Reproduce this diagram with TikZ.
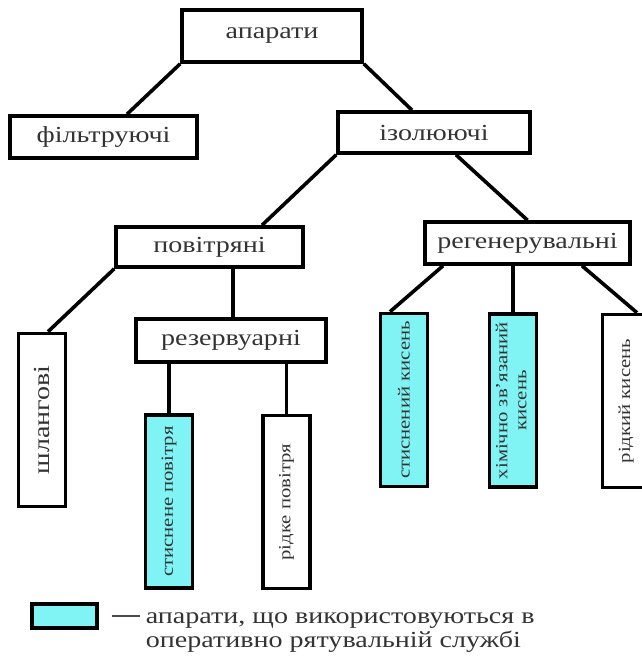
\documentclass[tikz,border=0pt]{standalone}
\usepackage{fontspec}
\setmainfont[FakeStretch=1.22]{Liberation Serif}
\definecolor{cyanfill}{RGB}{128,244,244}

\begin{document}
\begin{tikzpicture}[
  x=1pt, y=-1pt,
  line width=3.6pt,
  every node/.style = {shape=rectangle, draw, align=center,
    inner sep=0pt, text=black!80},
  hbox/.style = {font=\fontsize{23}{24}\selectfont},
  vbox/.style = {font=\fontsize{17}{19}\selectfont,
    minimum width=47pt, minimum height=173pt},
  inuse/.style = {fill=cyanfill}]
  \useasboundingbox (0,0) rectangle (641,659);
  % upper levels
  \node[hbox, minimum width=180pt, minimum height=52pt] (apar) at (272,36) {апарати};
  \node[hbox, minimum width=187pt, minimum height=42pt] (filtr) at (103.5,137) {фільтруючі};
  \node[hbox, minimum width=192pt, minimum height=41pt] (izol) at (434,132.5) {ізолюючі};
  \node[hbox, minimum width=187pt, minimum height=40pt] (povitr) at (209.5,247) {повітряні};
  \node[hbox, minimum width=205pt, minimum height=42pt] (regen) at (527.5,243) {регенерувальні};
  \node[hbox, minimum width=190pt, minimum height=43pt] (rezerv) at (231,340.5) {резервуарні};
  % vertical boxes
  \node[vbox, hbox] (shlang) at (42,420) {\rotatebox{90}{шлангові}};
  \node[vbox, inuse] (stysn) at (169,501.5) {\rotatebox{90}{стиснене повітря}};
  \node[vbox] (ridke) at (286.5,502) {\rotatebox{90}{рідке повітря}};
  \node[vbox, inuse] (stkys) at (404,400) {\rotatebox{90}{стиснений кисень}};
  \node[vbox, inuse] (khim) at (513,400.5)
    {\rotatebox{90}{\begin{tabular}{@{}c@{}}хімічно зв'язаний\\кисень\end{tabular}}};
  \node[vbox] (ridkys) at (626,401) {\rotatebox{90}{рідкий кисень}};
  % connectors
  \draw (apar.south west) -- ([xshift=23.5pt]filtr.north);
  \draw (apar.south east) -- ([xshift=-22pt]izol.north);
  \draw (izol.south west) -- ([xshift=52.5pt]povitr.north);
  \draw ([xshift=22pt]izol.south) -- (regen.north);
  \draw (povitr.south west) -- ([xshift=6pt]shlang.north);
  \draw ([xshift=23.5pt]povitr.south) -- ([xshift=2pt]rezerv.north);
  \draw (stysn.north) -- (stysn.north |- rezerv.south);
  \draw (ridke.north) -- (ridke.north |- rezerv.south);
  \draw ([xshift=-84.5pt]regen.south) -- ([xshift=-14pt]stkys.north);
  \draw (khim.north) -- (khim.north |- regen.south);
  \draw ([xshift=54.5pt]regen.south) -- ([xshift=11pt]ridkys.north);
  % legend
  \node[inuse, minimum width=65pt, minimum height=24pt] (keybox) at (64.5,616) {};
  \node[hbox, draw=none, align=left, anchor=north west] (keytext) at (144,611)
    {апарати, що використовуються в\\оперативно рятувальній службі};
  \draw[line width=2pt, black!70] ([xshift=13pt]keybox.east) -- ([xshift=-4pt]keytext.west |- keybox.east);
\end{tikzpicture}
\end{document}
